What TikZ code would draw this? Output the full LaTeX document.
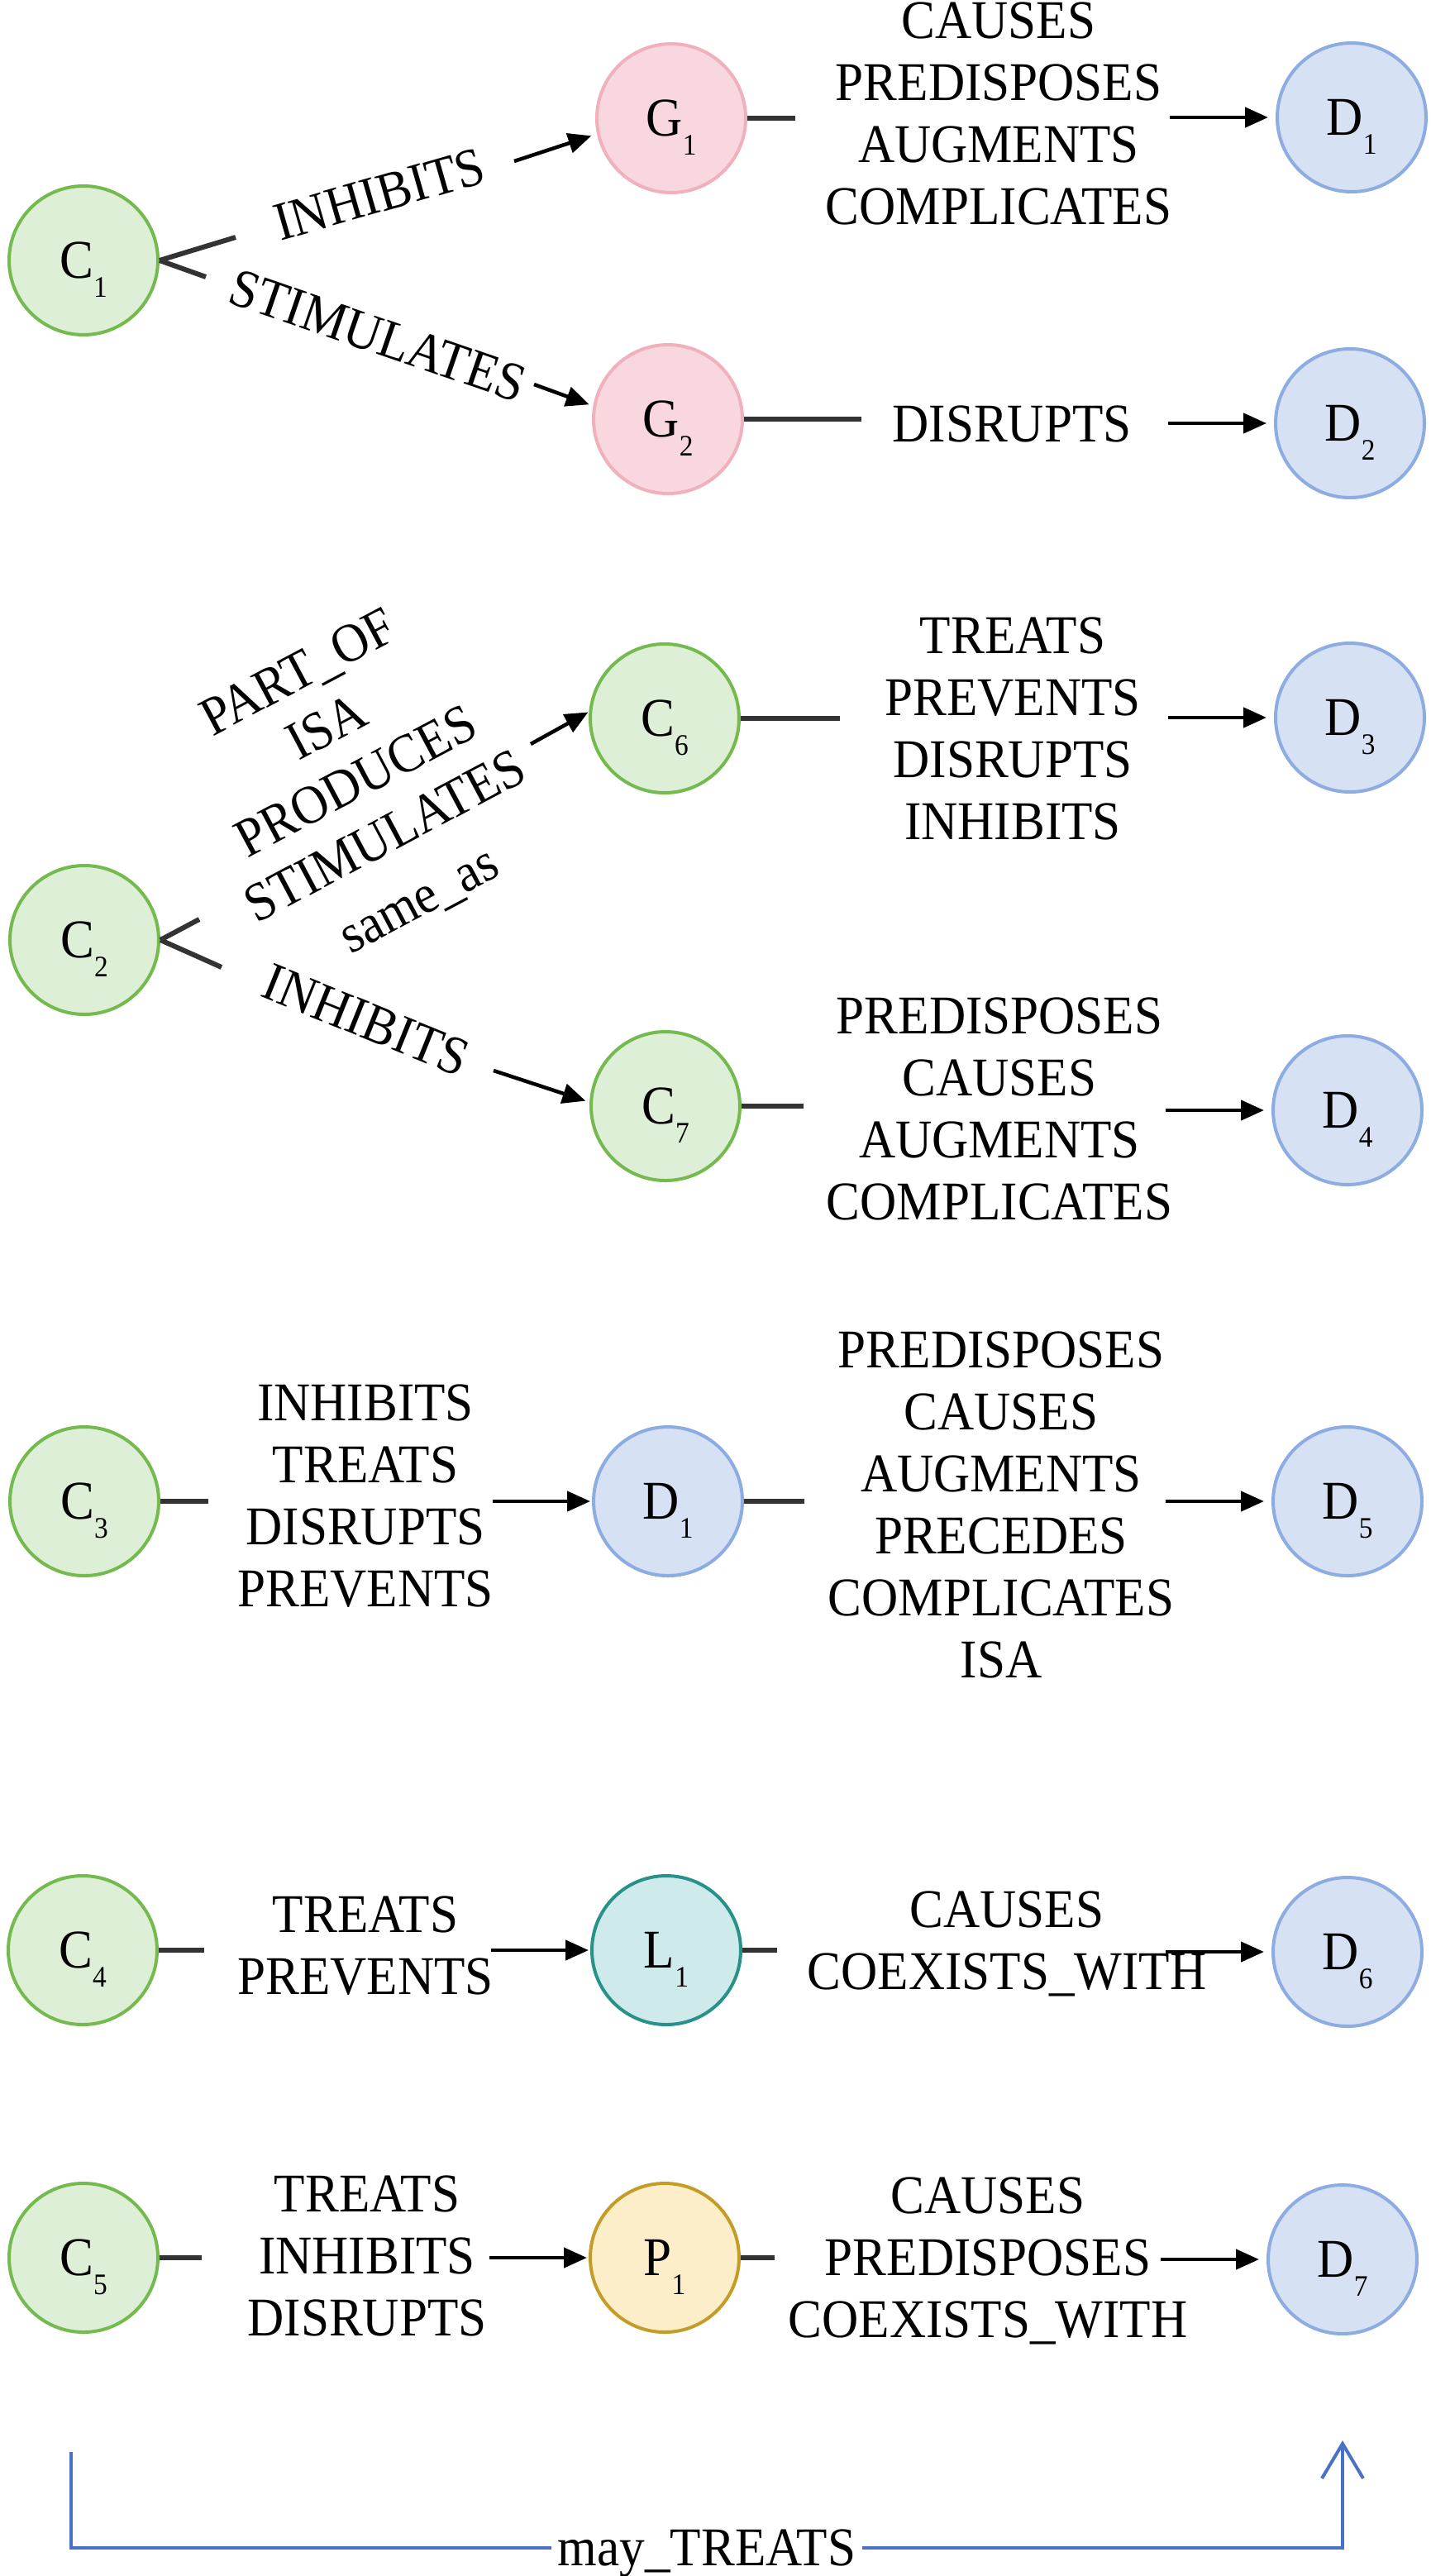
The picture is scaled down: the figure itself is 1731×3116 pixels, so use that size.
\documentclass[tikz,border=0pt]{standalone}
\usepackage{fontspec}
\setmainfont{Liberation Serif}[FakeStretch=0.927]
\usetikzlibrary{arrows.meta}
\definecolor{cgreen}{RGB}{116,186,78}
\definecolor{cgreenf}{RGB}{221,239,214}
\definecolor{cpink}{RGB}{240,176,188}
\definecolor{cpinkf}{RGB}{248,216,222}
\definecolor{cblue}{RGB}{140,172,226}
\definecolor{cbluef}{RGB}{214,225,244}
\definecolor{cteal}{RGB}{40,146,138}
\definecolor{ctealf}{RGB}{206,234,234}
\definecolor{cyell}{RGB}{196,156,40}
\definecolor{cyellf}{RGB}{252,238,200}
\definecolor{tblue}{RGB}{74,114,196}
\newcommand{\rfont}{\fontsize{66}{75}\selectfont}
\newcommand{\nm}[2]{\raisebox{-21pt}[0pt][0pt]{#1\raisebox{-23pt}{\fontsize{36}{36}\selectfont #2}}}

\begin{document}
\begin{tikzpicture}[x=1pt, y=-1pt]
\tikzstyle{vtx}=[circle, line width=4pt, minimum size=180pt, inner sep=0pt, font=\rfont]
\tikzstyle{grn}=[vtx, draw=cgreen, fill=cgreenf]
\tikzstyle{pnk}=[vtx, draw=cpink, fill=cpinkf]
\tikzstyle{blu}=[vtx, draw=cblue, fill=cbluef]
\tikzstyle{tea}=[vtx, draw=cteal, fill=ctealf]
\tikzstyle{ylw}=[vtx, draw=cyell, fill=cyellf]
\tikzstyle{rel}=[align=center, inner sep=0pt, font=\rfont]
\tikzstyle{stub}=[line width=6pt, draw=black!80]
\tikzstyle{arr}=[line width=4.5pt, -{Triangle[length=28pt,width=24pt]}, shorten >=9pt]
\tikzstyle{treat}=[draw=tblue, line width=4.5pt, -{Straight Barb[length=42pt,width=50pt,line width=4pt]}, shorten <=143pt, shorten >=127pt]
\useasboundingbox (0,0) rectangle (1731,3116);
\node[grn] (c1) at (101,315){\nm{C}{1}};
\node[pnk] (g1) at (812,143){\nm{G}{1}};
\node[blu] (d1) at (1635,142){\nm{D}{1}};
\node[pnk] (g2) at (808,507){\nm{G}{2}};
\node[blu] (d2) at (1633,512){\nm{D}{2}};
\node[grn] (c6) at (804,869){\nm{C}{6}};
\node[blu] (d3) at (1633,868){\nm{D}{3}};
\node[grn] (c2) at (102,1137){\nm{C}{2}};
\node[grn] (c7) at (805,1338){\nm{C}{7}};
\node[blu] (d4) at (1630,1343){\nm{D}{4}};
\node[grn] (c3) at (102,1816){\nm{C}{3}};
\node[blu] (d1m) at (808,1816){\nm{D}{1}};
\node[blu] (d5) at (1630,1816){\nm{D}{5}};
\node[grn] (c4) at (100,2359){\nm{C}{4}};
\node[tea] (l1) at (806,2359){\nm{L}{1}};
\node[blu] (d6) at (1630,2361){\nm{D}{6}};
\node[grn] (c5) at (101,2731){\nm{C}{5}};
\node[ylw] (p1) at (804,2731){\nm{P}{1}};
\node[blu] (d7) at (1624,2733){\nm{D}{7}};
\node[rel] (t1) at (1208,137){CAUSES\\PREDISPOSES\\AUGMENTS\\COMPLICATES};
\node[rel] (t2) at (1224,513){DISRUPTS};
\node[rel] (t3) at (1225,881){TREATS\\PREVENTS\\DISRUPTS\\INHIBITS};
\node[rel] (t4) at (1209,1341){PREDISPOSES\\CAUSES\\AUGMENTS\\COMPLICATES};
\node[rel] (t5) at (442,1810){INHIBITS\\TREATS\\DISRUPTS\\PREVENTS};
\node[rel] (t6) at (1211,1820){PREDISPOSES\\CAUSES\\AUGMENTS\\PRECEDES\\COMPLICATES\\ISA};
\node[rel] (t7) at (442,2354){TREATS\\PREVENTS};
\node[rel] (t8) at (1218,2351){CAUSES\\COEXISTS\_WITH};
\node[rel] (t9) at (444,2729){TREATS\\INHIBITS\\DISRUPTS};
\node[rel] (t10) at (1195,2735){CAUSES\\PREDISPOSES\\COEXISTS\_WITH};
\node[rel, rotate=16] (r1) at (459,235){INHIBITS};
\node[rel, rotate=-19] (r2) at (457,406){STIMULATES};
\node[rel, rotate=28] (r3) at (435,953){PART\_OF\\ISA\\PRODUCES\\STIMULATES\\[11pt]same\_as};
\node[rel, rotate=-22] (r4) at (443,1234){INHIBITS};
\coordinate (a1) at (622,195);
\coordinate (a2) at (646,465);
\coordinate (a3) at (642,900);
\coordinate (a4) at (597,1295);
\draw[stub] (c1.east) -- ++(92,-28);
\draw[stub] (c1.east) -- ++(56,20);
\draw[stub] (c2.east) -- ++(47,-25);
\draw[stub] (c2.east) -- ++(74,33);
\foreach \n/\l in {g1/58, g2/142, c6/120, c7/75, c3/58, d1m/73, c4/55, l1/42, c5/51, p1/41}
	\draw[stub] (\n.east) -- ++(\l,0);
\draw[arr, shorten >=7pt] (a1) -- (g1.192);
\draw[arr, shorten >=5pt] (a2) -- (g2.170);
\draw[arr, shorten >=1pt] (a3) -- (c6.175);
\draw[arr, shorten >=5pt] (a4) -- (c7.177);
\foreach \n in {d1,d2,d3,d4,d5,d6,d7}
	\draw[arr] ([xshift=-220pt]\n.center) -- (\n);
\foreach \n in {d1m,l1,p1}
	\draw[arr, shorten >=2pt] ([xshift=-212pt]\n.center) -- (\n);
\draw[treat] ([xshift=-15pt]c5.south) -- ++(0,259) -| node[pos=0.25, rel, fill=white, inner xsep=8pt, yshift=-7pt]{may\_TREATS} (d7.south);
\end{tikzpicture}
\end{document}
